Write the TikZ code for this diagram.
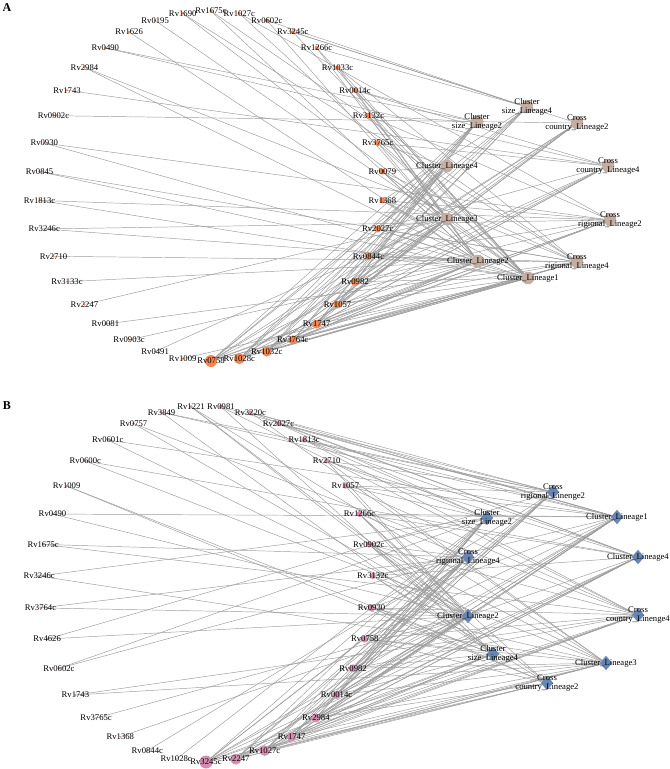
\documentclass[tikz,border=0pt]{standalone}
\usepackage{fontspec}
\setmainfont{Liberation Serif}
\usetikzlibrary{shapes.geometric}
\pgfdeclarelayer{background}
\pgfsetlayers{background,main}
\definecolor{geneA}{RGB}{244,134,84}
\definecolor{geneB}{RGB}{214,142,176}
\definecolor{clustA}{RGB}{196,174,162}
\definecolor{clustB}{RGB}{104,134,180}
\definecolor{edgegray}{RGB}{155,155,155}
\tikzset{
  lbl/.style={font=\fontsize{6.5}{6.9}\selectfont,inner sep=0pt,align=center},
  genedot/.style={circle,inner sep=0pt,draw=none},
  clustA/.style={regular polygon,regular polygon sides=8,fill=clustA,inner sep=0pt,minimum size=10pt},
  clustB/.style={diamond,fill=clustB,inner sep=0pt,minimum width=9.5pt,minimum height=11pt},
  edge/.style={draw=edgegray,line width=0.35pt},
  panel/.style={font=\bfseries\fontsize{9}{9}\selectfont,inner sep=0pt}
}
\begin{document}
\begin{tikzpicture}[x=0.75pt,y=-0.75pt]
\useasboundingbox (0,0) rectangle (669,769);
% panel letters
\node[panel] (pA) at (7,8) {A};
\node[panel] (pB) at (7,406) {B};

% panel A: cluster nodes
\node[clustA,label={[lbl]center:{Cluster\\size\_Lineage4}}] (Acs4) at (527,107) {};
\node[clustA,label={[lbl]center:{Cluster\\size\_Lineage2}}] (Acs2) at (477,122) {};
\node[clustA,label={[lbl]center:{Cross\\country\_Lineage2}}] (Acc2) at (577,123) {};
\node[clustA,label={[lbl]center:{Cross\\country\_Lineage4}}] (Acc4) at (608,166) {};
\node[clustA,label={[lbl]center:{Cluster\_Lineage4}}] (Acl4) at (447,166) {};
\node[clustA,label={[lbl]center:{Cluster\_Lineage3}}] (Acl3) at (447,219) {};
\node[clustA,label={[lbl]center:{Cross\\rigional\_Lineage2}}] (Acr2) at (610,220) {};
\node[clustA,label={[lbl]center:{Cluster\_Lineage2}}] (Acl2) at (478,261) {};
\node[clustA,label={[lbl]center:{Cross\\rigional\_Lineage4}}] (Acr4) at (577,262) {};
\node[clustA,label={[lbl]center:{Cluster\_Lineage1}}] (Acl1) at (528,278) {};

% panel A: genes on a ring, with their links
\foreach \i/\nm/\sz/\cls [evaluate=\i as \a using 90-(\i-1)*360/38] in {
  1/Rv1675c/3.5/{cl2,cr4}, 2/Rv1027c/3.5/{cl1,cr2}, 3/Rv0602c/4/{cl2,cs4},
  4/Rv3245c/4/{cs4,cc2,cl1}, 5/Rv1266c/4/{cl2,cl1,cs4}, 6/Rv1033c/4/{cl3,cl1,cr4},
  7/Rv0014c/5/{cl2,cl1,cs2,cc4}, 8/Rv3132c/6/{cs2,cl2,cl1,cr2}, 9/Rv3765c/6/{cl4,cl2,cl1,cc4},
  10/Rv0079/6/{cl4,cl3,cl2,cl1,cr4}, 11/Rv1368/6/{cl3,cl2,cl1,cr2,cs4},
  12/Rv2027c/7/{cl3,cl2,cl1,cr4,cc4,cs2}, 13/Rv0844c/7/{cl2,cr4,cl1,cl3,cc2,cr2},
  14/Rv0982/8/{cl1,cl2,cl3,cl4,cs2,cc4,cr2}, 15/Rv1057/8/{cl1,cl2,cl3,cl4,cs4,cc2,cr4},
  16/Rv1747/9/{cl1,cl2,cl3,cl4,cs2,cs4,cc4,cr2}, 17/Rv3764c/9/{cl1,cl2,cl3,cl4,cs2,cc2,cr4,cr2},
  18/Rv1032c/10/{cl1,cl2,cl3,cl4,cs2,cs4,cc2,cc4,cr4},
  19/Rv1028c/11/{cl1,cl2,cl3,cl4,cs2,cs4,cc2,cc4,cr2,cr4},
  20/Rv0758/12/{cl1,cl2,cl3,cl4,cs2,cs4,cc2,cc4,cr2,cr4},
  21/Rv1009/2.5/{cl1}, 22/Rv0491/2/{cl3}, 23/Rv0903c/2/{cl2}, 24/Rv0081/2/{cr4},
  25/Rv2247/2/{cl3}, 26/Rv3133c/2/{cl2}, 27/Rv2710/2.5/{cr4}, 28/Rv3246c/2/{cl2,cr2},
  29/Rv1813c/2.5/{cr2,cl1}, 30/Rv0845/2.5/{cl1,cr4}, 31/Rv0930/2.5/{cr2,cl1},
  32/Rv0902c/3/{cc2}, 33/Rv1743/2.5/{cc4}, 34/Rv2984/2.5/{cr4,cl2}, 35/Rv0490/3/{cc4,cs2},
  36/Rv1626/2.5/{cl2}, 37/Rv0195/2.5/{cl1}, 38/Rv1690/3/{cr4,cl1}}
{
  \node[genedot,fill=geneA,minimum size={\sz*0.75pt},label={[lbl]center:\nm}] (A\i)
    at ({211+172*cos(\a)},{186-175*sin(\a)}) {};
  \begin{pgfonlayer}{background}
    \foreach \c in \cls {\draw[edge] (A\i) -- (A\c);}
  \end{pgfonlayer}
}

% panel B: cluster nodes
\node[clustB,label={[lbl]center:{Cross\\rigional\_Linenge2}}] (Bcr2) at (553,492) {};
\node[clustB,label={[lbl]center:{Cluster\_Lineage1}}] (Bcl1) at (617,517) {};
\node[clustB,label={[lbl]center:{Cluster\\size\_Lineage2}}] (Bcs2) at (487,518) {};
\node[clustB,label={[lbl]center:{Cluster\_Lineage4}}] (Bcl4) at (638,557) {};
\node[clustB,label={[lbl]center:{Cross\\rigional\_Lineage4}}] (Bcr4) at (468,557) {};
\node[clustB,label={[lbl]center:{Cluster\_Lineage2}}] (Bcl2) at (468,616) {};
\node[clustB,label={[lbl]center:{Cross\\country\_Linenge4}}] (Bcc4) at (638,615) {};
\node[clustB,label={[lbl]center:{Cluster\\size\_Lineage4}}] (Bcs4) at (493,654) {};
\node[clustB,label={[lbl]center:{Cluster\_Lineage3}}] (Bcl3) at (606,663) {};
\node[clustB,label={[lbl]center:{Cross\\country\_Lineage2}}] (Bcc2) at (547,683) {};

% panel B: genes on a ring, with their links
\foreach \i/\nm/\sz/\cls [evaluate=\i as \a using 90-360/70-(\i-1)*360/35] in {
  1/Rv0981/4/{cl1,cc4,cs4}, 2/Rv3220c/4/{cl1,cr2,cl4,cl3}, 3/Rv2027c/5/{cr2,cl1,cl4,cs2},
  4/Rv1813c/5/{cr2,cl1,cl4,cc4,cs2}, 5/Rv2710/5/{cr2,cs2,cl4,cl2,cl3},
  6/Rv1057/5.5/{cr2,cs2,cl1,cc4,cl2}, 7/Rv1266c/6/{cl2,cs4,cr4,cc2,cl1,cl4},
  8/Rv0902c/6/{cs2,cl2,cr4,cc4,cl3,cs4}, 9/Rv3132c/6/{cl2,cr4,cs4,cc2,cl4,cl1},
  10/Rv0930/7/{cl2,cs4,cc4,cl3,cr2,cl1,cc2}, 11/Rv0758/7/{cl2,cs4,cl3,cc2,cr4,cc4,cl1},
  12/Rv0982/8/{cs2,cr2,cl1,cl2,cr4,cs4,cl3,cc4}, 13/Rv0014c/8/{cs2,cr2,cl1,cl4,cr4,cl2,cs4,cl3},
  14/Rv2984/9/{cl1,cs2,cl4,cr4,cl2,cc4,cs4,cl3,cc2},
  15/Rv1747/9.5/{cs2,cr2,cl1,cl4,cr4,cl2,cc4,cs4,cl3},
  16/Rv1027c/10.5/{cl1,cl2,cl3,cl4,cs2,cs4,cc2,cc4,cr2,cr4},
  17/Rv2247/11/{cl1,cl2,cl3,cl4,cs2,cs4,cc2,cc4,cr2,cr4},
  18/Rv3245c/13/{cl1,cl2,cl3,cl4,cs2,cs4,cc2,cc4,cr2,cr4},
  19/Rv1028c/2/{cs2}, 20/Rv0844c/2/{cr4}, 21/Rv1368/2/{cl4}, 22/Rv3765c/2/{cl2},
  23/Rv1743/2.5/{cc4,cl3}, 24/Rv0602c/2.5/{cs2,cr4}, 25/Rv4626/2.5/{cl2,cr2},
  26/Rv3764c/2.5/{cr4,cl2}, 27/Rv3246c/2.5/{cs2,cl3}, 28/Rv1675c/2.5/{cr4,cc4},
  29/Rv0490/2.5/{cl1,cl2}, 30/Rv1009/2.5/{cs4,cc2}, 31/Rv0600c/2.5/{cl3,cl4},
  32/Rv0601c/2.5/{cl2,cl1}, 33/Rv0757/3/{cl2,cc4}, 34/Rv3849/3/{cl1,cs4,cr2},
  35/Rv1221/3.5/{cl2,cc2,cl3}}
{
  \node[genedot,fill=geneB,minimum size={\sz*0.75pt},label={[lbl]center:\nm}] (B\i)
    at ({206+167*cos(\a)},{584-178*sin(\a)}) {};
  \begin{pgfonlayer}{background}
    \foreach \c in \cls {\draw[edge] (B\i) -- (B\c);}
  \end{pgfonlayer}
}
\end{tikzpicture}
\end{document}
